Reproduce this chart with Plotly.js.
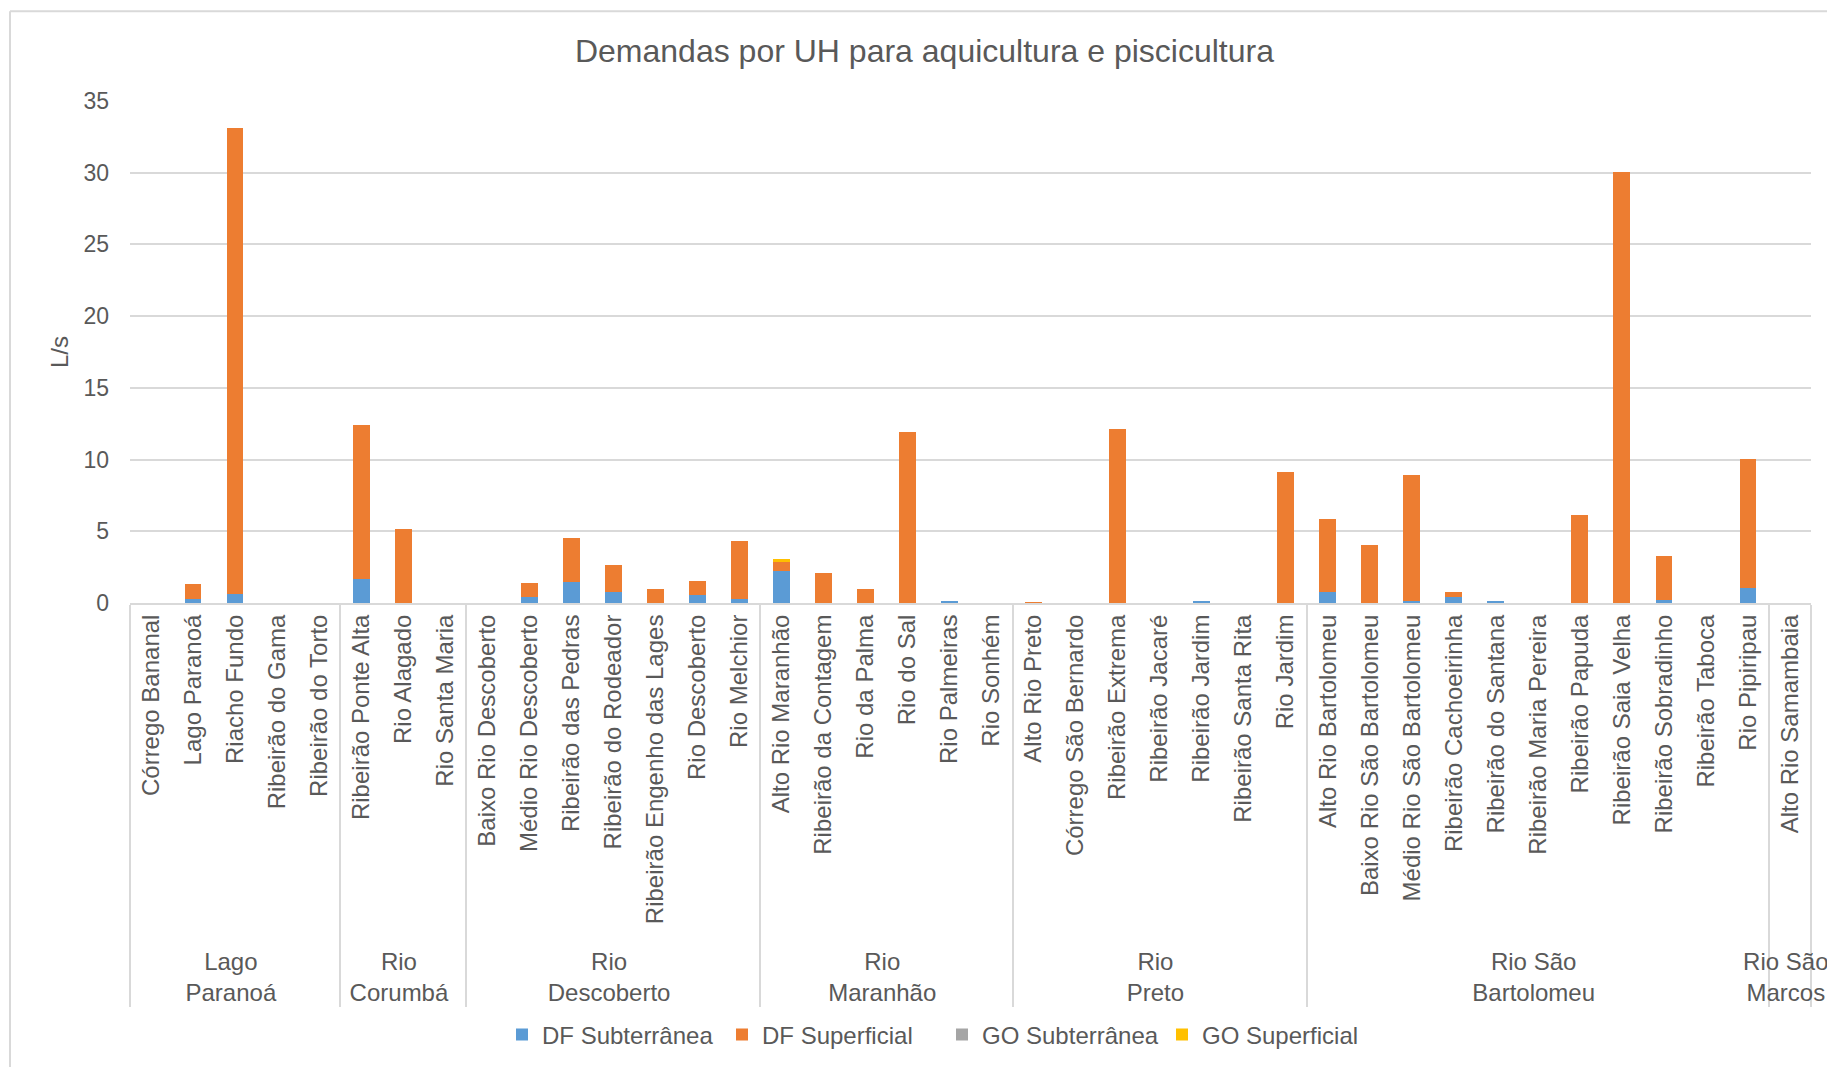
<!DOCTYPE html>
<html>
<head>
<meta charset="utf-8">
<script src="https://cdn.plot.ly/plotly-3.0.1.min.js"></script>
<style>
html,body{margin:0;padding:0;background:#fff;}
#chart{width:1827px;height:1067px;}
</style>
</head>
<body>
<div id="chart"></div>
<script>
const groups = [
  "Lago<br>Paranoá","Lago<br>Paranoá","Lago<br>Paranoá","Lago<br>Paranoá","Lago<br>Paranoá",
  "Rio<br>Corumbá","Rio<br>Corumbá","Rio<br>Corumbá",
  "Rio<br>Descoberto","Rio<br>Descoberto","Rio<br>Descoberto","Rio<br>Descoberto","Rio<br>Descoberto","Rio<br>Descoberto","Rio<br>Descoberto",
  "Rio<br>Maranhão","Rio<br>Maranhão","Rio<br>Maranhão","Rio<br>Maranhão","Rio<br>Maranhão","Rio<br>Maranhão",
  "Rio<br>Preto","Rio<br>Preto","Rio<br>Preto","Rio<br>Preto","Rio<br>Preto","Rio<br>Preto","Rio<br>Preto",
  "Rio São<br>Bartolomeu","Rio São<br>Bartolomeu","Rio São<br>Bartolomeu","Rio São<br>Bartolomeu","Rio São<br>Bartolomeu","Rio São<br>Bartolomeu","Rio São<br>Bartolomeu","Rio São<br>Bartolomeu","Rio São<br>Bartolomeu","Rio São<br>Bartolomeu","Rio São<br>Bartolomeu",
  "Rio São<br>Marcos"
];
const categories = [
  "Córrego Bananal","Lago Paranoá","Riacho Fundo","Ribeirão do Gama","Ribeirão do Torto",
  "Ribeirão Ponte Alta","Rio Alagado","Rio Santa Maria",
  "Baixo Rio Descoberto","Médio Rio Descoberto","Ribeirão das Pedras","Ribeirão do Rodeador","Ribeirão Engenho das Lages","Rio Descoberto","Rio Melchior",
  "Alto Rio Maranhão","Ribeirão da Contagem","Rio da Palma","Rio do Sal","Rio Palmeiras","Rio Sonhém",
  "Alto Rio Preto","Córrego São Bernardo","Ribeirão Extrema","Ribeirão Jacaré","Ribeirão Jardim","Ribeirão Santa Rita","Rio Jardim",
  "Alto Rio Bartolomeu","Baixo Rio São Bartolomeu","Médio Rio São Bartolomeu","Ribeirão Cachoeirinha","Ribeirão do Santana","Ribeirão Maria Pereira","Ribeirão Papuda","Ribeirão Saia Velha","Ribeirão Sobradinho","Ribeirão Taboca","Rio Pipiripau",
  "Alto Rio Samambaia"
];
const dfSubterranea = [
  0,0.28,0.66,0,0,
  1.65,0,0,
  0,0.39,1.46,0.74,0,0.55,0.25,
  2.23,0,0,0,0.16,0,
  0,0,0,0,0.14,0,0,
  0.74,0,0.17,0.44,0.12,0,0,0,0.22,0,1.02,
  0
];
const dfSuperficial = [
  0,1.02,32.46,0,0,
  10.75,5.15,0,
  0,1.01,3.06,1.93,0.99,0.99,4.05,
  0.62,2.06,0.99,11.93,0,0,
  0.04,0,12.12,0,0,0,9.10,
  5.10,4.05,8.73,0.30,0,0,6.17,30.04,3.09,0,9.04,
  0
];
const goSubterranea = [
  0,0,0,0,0,
  0,0,0,
  0,0,0,0,0,0,0,
  0.03,0,0,0,0,0,
  0,0,0,0,0,0,0,
  0,0,0,0,0,0,0,0,0,0,0,
  0
];
const goSuperficial = [
  0,0,0,0,0,
  0,0,0,
  0,0,0,0,0,0,0,
  0.18,0,0,0,0,0,
  0,0,0,0,0,0,0,
  0,0,0,0,0,0,0,0,0,0,0,
  0
];
const seriesNames = ["DF Subterrânea","DF Superficial","GO Subterrânea","GO Superficial"];
const seriesColors = ["#5B9BD5","#ED7D31","#A5A5A5","#FFC000"];
const seriesValues = [dfSubterranea, dfSuperficial, goSubterranea, goSuperficial];

const font = "Liberation Sans, Arial, sans-serif";
const textColor = "#595959";
const gridColor = "#D9D9D9";

const traces = seriesValues.map((vals, i) => ({
  type: "bar",
  name: seriesNames[i],
  x: [groups, categories],
  y: vals,
  marker: {color: seriesColors[i], line: {width: 0}},
  hoverinfo: "skip"
}));

// plot area pixel geometry -> paper fractions for chart border
const L = 130, R = 1811, T = 101, B = 604;
const px = v => (v - L) / (R - L);
const py = v => (B - v) / (B - T);

const layout = {
  width: 1827, height: 1067,
  paper_bgcolor: "#fff", plot_bgcolor: "#fff",
  margin: {l: L, r: 1827 - R, t: T, b: 1067 - B, pad: 0},
  barmode: "stack",
  bargap: 0.6,
  font: {family: font, color: textColor, size: 24},
  title: {
    text: "Demandas por UH para aquicultura e piscicultura",
    font: {family: font, size: 32, color: textColor},
    xref: "container", yref: "container",
    x: 0.506, xanchor: "center",
    y: 1 - 51 / 1067, yanchor: "middle"
  },
  xaxis: {
    type: "multicategory",
    tickangle: -90,
    tickfont: {family: font, size: 24, color: textColor},
    showline: true, linecolor: gridColor, linewidth: 2,
    showgrid: false,
    ticks: "",
    showdividers: true, dividercolor: gridColor, dividerwidth: 2,
    automargin: false,
    fixedrange: true
  },
  yaxis: {
    range: [0, 35],
    dtick: 5,
    showgrid: true, gridcolor: gridColor, gridwidth: 2,
    zeroline: false,
    showline: false,
    ticks: "",
    ticklabelstandoff: 20,
    tickfont: {family: font, size: 23, color: textColor},
    title: {text: "L/s", font: {family: font, size: 24, color: textColor}, standoff: 8},
    automargin: false,
    fixedrange: true
  },
  legend: {
    orientation: "h",
    x: px(942), xanchor: "center",
    y: py(1035), yanchor: "middle",
    font: {family: font, size: 24, color: textColor},
    itemwidth: 30,
    entrywidth: 175,
    entrywidthmode: "pixels",
    itemclick: false, itemdoubleclick: false,
    traceorder: "normal"
  },
  shapes: [
    {type: "line", xref: "paper", yref: "paper", x0: px(10), x1: px(10), y0: py(11), y1: py(1100),
     line: {color: gridColor, width: 2}, layer: "below"},
    {type: "line", xref: "paper", yref: "paper", x0: px(10), x1: px(1900), y0: py(11), y1: py(11),
     line: {color: gridColor, width: 2}, layer: "below"}
  ],
  showlegend: true
};

Plotly.newPlot("chart", traces, layout, {staticPlot: true, displayModeBar: false});
</script>
</body>
</html>
